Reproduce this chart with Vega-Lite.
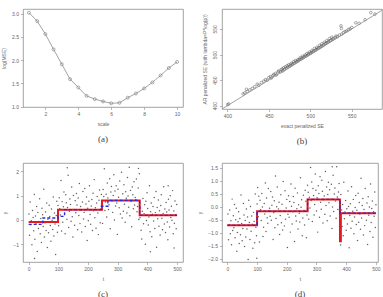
{
  "$schema": "https://vega.github.io/schema/vega-lite/v6.json",
  "background": "white",
  "padding": {"left": 1, "top": 8, "right": 0, "bottom": 0},
  "columns": 2,
  "bounds": "flush",
  "spacing": {"row": 54, "column": 39},
  "config": {
    "view": {"stroke": "#8a8a8a", "strokeWidth": 0.8},
    "axis": {"grid": false, "domain": false, "tickColor": "#8a8a8a", "tickSize": 2.5, "tickWidth": 0.6,
      "labelFont": "Liberation Sans", "labelFontSize": 5, "labelColor": "#666666", "labelPadding": 2, "labelOverlap": false,
      "titleFont": "Liberation Sans", "titleFontSize": 5, "titleFontWeight": "normal", "titleColor": "#666666", "titlePadding": 5},
    "title": {"orient": "bottom", "font": "Liberation Serif", "fontSize": 9, "fontWeight": "normal", "color": "#444444", "offset": 8}
  },
  "datasets": {
    "mse": [
      {"s": 1, "v": 3.02}, {"s": 1.5, "v": 2.84}, {"s": 2, "v": 2.56}, {"s": 2.5, "v": 2.23}, {"s": 3, "v": 1.91},
      {"s": 3.5, "v": 1.59}, {"s": 4, "v": 1.41}, {"s": 4.5, "v": 1.23}, {"s": 5, "v": 1.16}, {"s": 5.5, "v": 1.11},
      {"s": 6, "v": 1.07}, {"s": 6.5, "v": 1.08}, {"s": 7, "v": 1.19}, {"s": 7.5, "v": 1.28}, {"s": 8, "v": 1.39},
      {"s": 8.5, "v": 1.52}, {"s": 9, "v": 1.67}, {"s": 9.5, "v": 1.83}, {"s": 10, "v": 1.96}
    ],
    "se": [
      {"x": 400.5, "y": 402}, {"x": 401.5, "y": 403.5}, {"x": 419, "y": 423}, {"x": 421, "y": 425}, {"x": 423, "y": 432},
      {"x": 424, "y": 428}, {"x": 427, "y": 431}, {"x": 430, "y": 434}, {"x": 433, "y": 437}, {"x": 436, "y": 442},
      {"x": 438, "y": 440}, {"x": 441, "y": 445}, {"x": 444, "y": 448}, {"x": 446, "y": 451}, {"x": 448, "y": 450},
      {"x": 450, "y": 455}, {"x": 452, "y": 457}, {"x": 453, "y": 454}, {"x": 455, "y": 459}, {"x": 456, "y": 461},
      {"x": 458, "y": 463}, {"x": 459, "y": 460}, {"x": 461, "y": 466}, {"x": 462, "y": 468}, {"x": 464, "y": 466},
      {"x": 465, "y": 470}, {"x": 466, "y": 472}, {"x": 467, "y": 468}, {"x": 468, "y": 474}, {"x": 469, "y": 471},
      {"x": 470, "y": 476}, {"x": 471, "y": 473}, {"x": 472, "y": 478}, {"x": 473, "y": 475}, {"x": 474, "y": 480},
      {"x": 475, "y": 477}, {"x": 476, "y": 479}, {"x": 477, "y": 483}, {"x": 478, "y": 480}, {"x": 479, "y": 482},
      {"x": 480, "y": 486}, {"x": 481, "y": 483}, {"x": 482, "y": 488}, {"x": 483, "y": 485}, {"x": 484, "y": 487},
      {"x": 485, "y": 490}, {"x": 486, "y": 488}, {"x": 487, "y": 491}, {"x": 488, "y": 494}, {"x": 489, "y": 491},
      {"x": 490, "y": 493}, {"x": 491, "y": 497}, {"x": 492, "y": 494}, {"x": 493, "y": 496}, {"x": 494, "y": 499},
      {"x": 495, "y": 497}, {"x": 496, "y": 502}, {"x": 497, "y": 499}, {"x": 498, "y": 501}, {"x": 499, "y": 505},
      {"x": 500, "y": 502}, {"x": 501, "y": 504}, {"x": 502, "y": 508}, {"x": 503, "y": 505}, {"x": 504, "y": 507},
      {"x": 505, "y": 512}, {"x": 506, "y": 508}, {"x": 507, "y": 510}, {"x": 508, "y": 514}, {"x": 509, "y": 511},
      {"x": 510, "y": 513}, {"x": 511, "y": 518}, {"x": 512, "y": 514}, {"x": 513, "y": 516}, {"x": 514, "y": 521},
      {"x": 515, "y": 517}, {"x": 516, "y": 519}, {"x": 517, "y": 524}, {"x": 518, "y": 521}, {"x": 519, "y": 522},
      {"x": 520, "y": 527}, {"x": 521, "y": 524}, {"x": 522, "y": 525}, {"x": 523, "y": 531}, {"x": 524, "y": 527},
      {"x": 525, "y": 528}, {"x": 526, "y": 534}, {"x": 527, "y": 530}, {"x": 528, "y": 531}, {"x": 530, "y": 533},
      {"x": 531, "y": 536}, {"x": 533, "y": 535}, {"x": 535, "y": 538}, {"x": 537, "y": 556}, {"x": 537.5, "y": 551},
      {"x": 538, "y": 540}, {"x": 540, "y": 543}, {"x": 542, "y": 545}, {"x": 544, "y": 546}, {"x": 546, "y": 549},
      {"x": 548, "y": 550}, {"x": 550, "y": 553}, {"x": 555, "y": 562}, {"x": 559, "y": 561}, {"x": 566, "y": 568},
      {"x": 573, "y": 582}, {"x": 578, "y": 579}
    ],
    "diag": [{"x": 380, "y": 380}, {"x": 600, "y": 600}],
    "sig1": [
      {"i": 1, "y": 0.24}, {"i": 3, "y": -0.63}, {"i": 5, "y": 0.73}, {"i": 7, "y": -0.2}, {"i": 9, "y": -0.03}, {"i": 11, "y": -1.01}, {"i": 13, "y": 0.39}, {"i": 15, "y": 0.1}, {"i": 17, "y": -0.44}, {"i": 19, "y": 1.04},
      {"i": 21, "y": -0.79}, {"i": 23, "y": 0.16}, {"i": 25, "y": -0.16}, {"i": 27, "y": 0.55}, {"i": 29, "y": -1.29}, {"i": 31, "y": 0.31}, {"i": 33, "y": -0.35}, {"i": 35, "y": -0.06}, {"i": 37, "y": 0.87}, {"i": 39, "y": -0.56},
      {"i": 41, "y": 0.06}, {"i": 43, "y": -0.92}, {"i": 45, "y": 0.48}, {"i": 47, "y": 0.21}, {"i": 49, "y": -0.27}, {"i": 51, "y": 1.26}, {"i": 53, "y": -0.7}, {"i": 55, "y": -0.11}, {"i": 57, "y": 0.33}, {"i": 59, "y": -0.43},
      {"i": 61, "y": 0.69}, {"i": 63, "y": -1.13}, {"i": 65, "y": 0.03}, {"i": 67, "y": -0.52}, {"i": 69, "y": 0.6}, {"i": 71, "y": 0.14}, {"i": 73, "y": -0.23}, {"i": 75, "y": -0.87}, {"i": 77, "y": 0.45}, {"i": 79, "y": -0.01},
      {"i": 81, "y": -0.39}, {"i": 83, "y": 0.94}, {"i": 85, "y": -0.66}, {"i": 87, "y": 0.28}, {"i": 89, "y": -0.17}, {"i": 91, "y": -1.41}, {"i": 93, "y": 0.18}, {"i": 95, "y": 0.77}, {"i": 97, "y": -0.5}, {"i": 99, "y": 0.59},
      {"i": 101, "y": -0.24}, {"i": 103, "y": 0.91}, {"i": 105, "y": 0.46}, {"i": 107, "y": 0.2}, {"i": 109, "y": 1.61}, {"i": 111, "y": -0.45}, {"i": 113, "y": 0.75}, {"i": 115, "y": -0.09}, {"i": 117, "y": 0.54}, {"i": 119, "y": 1.14},
      {"i": 121, "y": 0.25}, {"i": 123, "y": -0.56}, {"i": 125, "y": 1.03}, {"i": 127, "y": 0.7}, {"i": 129, "y": 0.03}, {"i": 131, "y": 0.51}, {"i": 133, "y": 1.83}, {"i": 135, "y": -0.31}, {"i": 137, "y": 0.36}, {"i": 139, "y": 0.86},
      {"i": 141, "y": 0.63}, {"i": 143, "y": -0.05}, {"i": 145, "y": 1.35}, {"i": 147, "y": 0.13}, {"i": 149, "y": -0.7}, {"i": 151, "y": 1.0}, {"i": 153, "y": 0.43}, {"i": 155, "y": -0.22}, {"i": 157, "y": 0.79}, {"i": 159, "y": 0.29},
      {"i": 161, "y": 1.08}, {"i": 163, "y": 0.61}, {"i": 165, "y": -0.4}, {"i": 167, "y": 0.9}, {"i": 169, "y": 0.18}, {"i": 171, "y": 1.49}, {"i": 173, "y": -0.15}, {"i": 175, "y": 0.55}, {"i": 177, "y": 0.41}, {"i": 179, "y": -0.49},
      {"i": 181, "y": 0.73}, {"i": 183, "y": 1.16}, {"i": 185, "y": 0.04}, {"i": 187, "y": 0.31}, {"i": 189, "y": 1.29}, {"i": 191, "y": -0.27}, {"i": 193, "y": 0.65}, {"i": 195, "y": 0.94}, {"i": 197, "y": -0.84}, {"i": 199, "y": 0.48},
      {"i": 201, "y": -0.03}, {"i": 203, "y": 0.77}, {"i": 205, "y": 1.4}, {"i": 207, "y": 0.22}, {"i": 209, "y": -0.18}, {"i": 211, "y": 0.57}, {"i": 213, "y": 0.84}, {"i": 215, "y": -0.43}, {"i": 217, "y": 1.09}, {"i": 219, "y": 0.38},
      {"i": 221, "y": 1.65}, {"i": 223, "y": 0.09}, {"i": 225, "y": 0.5}, {"i": 227, "y": -0.34}, {"i": 229, "y": 0.69}, {"i": 231, "y": 0.96}, {"i": 233, "y": 0.28}, {"i": 235, "y": -0.6}, {"i": 237, "y": 0.81}, {"i": 239, "y": 1.23},
      {"i": 241, "y": -0.11}, {"i": 243, "y": 0.45}, {"i": 245, "y": 1.04}, {"i": 247, "y": 0.54}, {"i": 249, "y": -0.14}, {"i": 251, "y": 1.25}, {"i": 253, "y": 0.96}, {"i": 255, "y": 2.09}, {"i": 257, "y": 0.39}, {"i": 259, "y": 0.73},
      {"i": 261, "y": 1.05}, {"i": 263, "y": 0.12}, {"i": 265, "y": 1.51}, {"i": 267, "y": 0.9}, {"i": 269, "y": 0.43}, {"i": 271, "y": 0.62}, {"i": 273, "y": 1.69}, {"i": 275, "y": -0.36}, {"i": 277, "y": 1.14}, {"i": 279, "y": 1.37},
      {"i": 281, "y": 0.78}, {"i": 283, "y": 0.31}, {"i": 285, "y": 1.0}, {"i": 287, "y": 1.85}, {"i": 289, "y": 0.0}, {"i": 291, "y": 1.18}, {"i": 293, "y": 0.57}, {"i": 295, "y": 1.4}, {"i": 297, "y": 0.69}, {"i": 299, "y": -0.59},
      {"i": 301, "y": 1.26}, {"i": 303, "y": 0.93}, {"i": 305, "y": 0.5}, {"i": 307, "y": 1.59}, {"i": 309, "y": 0.24}, {"i": 311, "y": 0.8}, {"i": 313, "y": 1.95}, {"i": 315, "y": 0.08}, {"i": 317, "y": 1.07}, {"i": 319, "y": 0.36},
      {"i": 321, "y": 1.44}, {"i": 323, "y": 0.64}, {"i": 325, "y": -0.09}, {"i": 327, "y": 1.15}, {"i": 329, "y": 0.89}, {"i": 331, "y": 0.28}, {"i": 333, "y": 1.74}, {"i": 335, "y": 0.98}, {"i": 337, "y": 0.52}, {"i": 339, "y": 2.16},
      {"i": 341, "y": 0.17}, {"i": 343, "y": 1.21}, {"i": 345, "y": 0.75}, {"i": 347, "y": -0.28}, {"i": 349, "y": 1.35}, {"i": 351, "y": 1.03}, {"i": 353, "y": 0.46}, {"i": 355, "y": 1.56}, {"i": 357, "y": 0.61}, {"i": 359, "y": 0.92},
      {"i": 361, "y": 0.83}, {"i": 363, "y": 1.68}, {"i": 365, "y": 0.34}, {"i": 367, "y": 0.55}, {"i": 369, "y": 1.31}, {"i": 371, "y": 0.02}, {"i": 373, "y": 1.89}, {"i": 375, "y": 0.09}, {"i": 377, "y": 0.49}, {"i": 379, "y": -0.42},
      {"i": 381, "y": -0.78}, {"i": 383, "y": 0.36}, {"i": 385, "y": 0.88}, {"i": 387, "y": -0.16}, {"i": 389, "y": 0.25}, {"i": 391, "y": 0.62}, {"i": 393, "y": -0.99}, {"i": 395, "y": 0.77}, {"i": 397, "y": -0.02}, {"i": 399, "y": 1.11},
      {"i": 401, "y": 0.47}, {"i": 403, "y": -0.21}, {"i": 405, "y": 0.12}, {"i": 407, "y": 1.4}, {"i": 409, "y": -0.48}, {"i": 411, "y": 0.34}, {"i": 413, "y": 0.69}, {"i": 415, "y": -0.69}, {"i": 417, "y": 0.23}, {"i": 419, "y": 0.55},
      {"i": 421, "y": -0.04}, {"i": 423, "y": 0.92}, {"i": 425, "y": -0.35}, {"i": 427, "y": 0.3}, {"i": 429, "y": 1.16}, {"i": 431, "y": -1.12}, {"i": 433, "y": 0.51}, {"i": 435, "y": 0.05}, {"i": 437, "y": 0.82}, {"i": 439, "y": -0.26},
      {"i": 441, "y": 0.38}, {"i": 443, "y": -0.62}, {"i": 445, "y": 0.59}, {"i": 447, "y": 1.03}, {"i": 449, "y": 0.07}, {"i": 451, "y": -0.4}, {"i": 453, "y": 0.26}, {"i": 455, "y": 1.36}, {"i": 457, "y": -0.17}, {"i": 459, "y": 0.45},
      {"i": 461, "y": -0.51}, {"i": 463, "y": 0.71}, {"i": 465, "y": 0.33}, {"i": 467, "y": -0.08}, {"i": 469, "y": -0.81}, {"i": 471, "y": 0.85}, {"i": 473, "y": 0.41}, {"i": 475, "y": -0.29}, {"i": 477, "y": 0.99}, {"i": 479, "y": 0.1},
      {"i": 481, "y": 0.56}, {"i": 483, "y": -0.01}, {"i": 485, "y": 1.2}, {"i": 487, "y": -0.56}, {"i": 489, "y": 0.37}, {"i": 491, "y": -0.13}, {"i": 493, "y": 0.78}, {"i": 495, "y": 0.21}, {"i": 497, "y": -0.36}, {"i": 499, "y": 0.63},
      {"i": 20, "y": -1.58}, {"i": 130, "y": 2.14}, {"i": 370, "y": 2.11}, {"i": 470, "y": 1.4}, {"i": 490, "y": -1.15}, {"i": 410, "y": -1.3}
    ],
    "fit1": [
      {"m": "red", "i": 0, "y": -0.08}, {"m": "red", "i": 99, "y": 0.42}, {"m": "red", "i": 247, "y": 0.8}, {"m": "red", "i": 374, "y": 0.19}, {"m": "red", "i": 500, "y": 0.19},
      {"m": "blue", "i": 0, "y": -0.18}, {"m": "blue", "i": 48, "y": 0.08}, {"m": "blue", "i": 99, "y": 0.15}, {"m": "blue", "i": 121, "y": 0.42}, {"m": "blue", "i": 245, "y": 0.56}, {"m": "blue", "i": 267, "y": 0.8}, {"m": "blue", "i": 374, "y": 0.19}, {"m": "blue", "i": 500, "y": 0.19}
    ],
    "sig2": [
      {"i": 2, "y": -0.27}, {"i": 4, "y": -1.26}, {"i": 6, "y": -0.69}, {"i": 8, "y": -0.12}, {"i": 10, "y": -1.03}, {"i": 12, "y": -0.53}, {"i": 14, "y": -1.46}, {"i": 16, "y": 0.3}, {"i": 18, "y": -0.91}, {"i": 20, "y": -0.34},
      {"i": 22, "y": -0.8}, {"i": 24, "y": 0.09}, {"i": 26, "y": -1.19}, {"i": 28, "y": -0.49}, {"i": 30, "y": -0.05}, {"i": 32, "y": -1.71}, {"i": 34, "y": -0.98}, {"i": 36, "y": -0.57}, {"i": 38, "y": -0.19}, {"i": 40, "y": -1.41},
      {"i": 42, "y": -0.45}, {"i": 44, "y": -1.07}, {"i": 46, "y": 0.46}, {"i": 48, "y": -0.64}, {"i": 50, "y": -1.3}, {"i": 52, "y": -0.83}, {"i": 54, "y": 0.13}, {"i": 56, "y": -0.31}, {"i": 58, "y": -1.52}, {"i": 60, "y": -0.52},
      {"i": 62, "y": -1.16}, {"i": 64, "y": -0.08}, {"i": 66, "y": -0.85}, {"i": 68, "y": -0.39}, {"i": 70, "y": -2.02}, {"i": 72, "y": 0.26}, {"i": 74, "y": -0.6}, {"i": 76, "y": -1.25}, {"i": 78, "y": 0.02}, {"i": 80, "y": -0.94},
      {"i": 82, "y": -0.35}, {"i": 84, "y": -0.67}, {"i": 86, "y": -1.59}, {"i": 88, "y": -0.21}, {"i": 90, "y": -0.56}, {"i": 92, "y": -1.38}, {"i": 94, "y": 0.5}, {"i": 96, "y": -0.78}, {"i": 98, "y": -1.11}, {"i": 100, "y": 0.11},
      {"i": 102, "y": 0.75}, {"i": 104, "y": -0.38}, {"i": 106, "y": 0.41}, {"i": 108, "y": -1.35}, {"i": 110, "y": 0.26}, {"i": 112, "y": -0.11}, {"i": 114, "y": -0.52}, {"i": 116, "y": 0.52}, {"i": 118, "y": 0.0}, {"i": 120, "y": -1.14},
      {"i": 122, "y": -0.78}, {"i": 124, "y": 0.13}, {"i": 126, "y": -0.27}, {"i": 128, "y": 0.92}, {"i": 130, "y": -0.95}, {"i": 132, "y": 0.34}, {"i": 134, "y": -0.42}, {"i": 136, "y": -0.63}, {"i": 138, "y": 0.71}, {"i": 140, "y": -0.14},
      {"i": 142, "y": -0.05}, {"i": 144, "y": -0.36}, {"i": 146, "y": 0.59}, {"i": 148, "y": -0.51}, {"i": 150, "y": 0.06}, {"i": 152, "y": 0.38}, {"i": 154, "y": -1.25}, {"i": 156, "y": -0.22}, {"i": 158, "y": 0.24}, {"i": 160, "y": -0.8},
      {"i": 162, "y": 1.19}, {"i": 164, "y": -0.45}, {"i": 166, "y": 0.01}, {"i": 168, "y": 0.77}, {"i": 170, "y": -0.69}, {"i": 172, "y": -0.08}, {"i": 174, "y": 0.18}, {"i": 176, "y": -1.06}, {"i": 178, "y": -0.33}, {"i": 180, "y": 0.47},
      {"i": 182, "y": -0.61}, {"i": 184, "y": 0.1}, {"i": 186, "y": -0.89}, {"i": 188, "y": 0.98}, {"i": 190, "y": -0.17}, {"i": 192, "y": -0.73}, {"i": 194, "y": 0.62}, {"i": 196, "y": -0.47}, {"i": 198, "y": -0.04}, {"i": 200, "y": 0.29},
      {"i": 202, "y": -1.56}, {"i": 204, "y": -0.28}, {"i": 206, "y": 0.43}, {"i": 208, "y": -0.4}, {"i": 210, "y": 0.21}, {"i": 212, "y": -0.97}, {"i": 214, "y": 0.88}, {"i": 216, "y": 0.03}, {"i": 218, "y": -0.66}, {"i": 220, "y": -0.19},
      {"i": 222, "y": 0.4}, {"i": 224, "y": 0.17}, {"i": 226, "y": -1.33}, {"i": 228, "y": 0.72}, {"i": 230, "y": -0.35}, {"i": 232, "y": -0.54}, {"i": 234, "y": -0.07}, {"i": 236, "y": 0.54}, {"i": 238, "y": -0.85}, {"i": 240, "y": 0.08},
      {"i": 242, "y": -0.24}, {"i": 244, "y": -0.58}, {"i": 246, "y": 1.12}, {"i": 248, "y": -0.01}, {"i": 250, "y": 0.28}, {"i": 252, "y": -1.11}, {"i": 254, "y": -0.43}, {"i": 256, "y": 0.45}, {"i": 258, "y": -0.14}, {"i": 260, "y": -0.7},
      {"i": 262, "y": 0.64}, {"i": 264, "y": 0.22}, {"i": 266, "y": -1.19}, {"i": 268, "y": -0.31}, {"i": 270, "y": 0.83}, {"i": 272, "y": 0.56}, {"i": 274, "y": -0.47}, {"i": 276, "y": 0.37}, {"i": 278, "y": -0.04}, {"i": 280, "y": 1.52},
      {"i": 282, "y": 0.25}, {"i": 284, "y": 0.96}, {"i": 286, "y": -0.56}, {"i": 288, "y": 0.71}, {"i": 290, "y": 0.44}, {"i": 292, "y": -0.31}, {"i": 294, "y": 0.09}, {"i": 296, "y": 1.27}, {"i": 298, "y": 0.64}, {"i": 300, "y": -0.16},
      {"i": 302, "y": 0.35}, {"i": 304, "y": -0.97}, {"i": 306, "y": 0.81}, {"i": 308, "y": 0.52}, {"i": 310, "y": -0.4}, {"i": 312, "y": 1.16}, {"i": 314, "y": 0.18}, {"i": 316, "y": -0.09}, {"i": 318, "y": 1.03}, {"i": 320, "y": 0.6},
      {"i": 322, "y": -0.62}, {"i": 324, "y": 0.28}, {"i": 326, "y": 0.42}, {"i": 328, "y": -0.28}, {"i": 330, "y": 1.36}, {"i": 332, "y": 0.05}, {"i": 334, "y": 0.77}, {"i": 336, "y": -0.53}, {"i": 338, "y": 0.48}, {"i": 340, "y": 0.95},
      {"i": 342, "y": 0.16}, {"i": 344, "y": 0.66}, {"i": 346, "y": -0.35}, {"i": 348, "y": 0.3}, {"i": 350, "y": 0.87}, {"i": 352, "y": -0.83}, {"i": 354, "y": 0.0}, {"i": 356, "y": 1.22}, {"i": 358, "y": -0.18}, {"i": 360, "y": 0.5},
      {"i": 362, "y": 0.73}, {"i": 364, "y": 0.23}, {"i": 366, "y": -0.44}, {"i": 368, "y": 1.55}, {"i": 370, "y": 0.38}, {"i": 372, "y": -0.1}, {"i": 374, "y": 0.57}, {"i": 376, "y": 0.9}, {"i": 378, "y": -0.69}, {"i": 380, "y": -0.41},
      {"i": 382, "y": 0.48}, {"i": 384, "y": -0.12}, {"i": 386, "y": -0.75}, {"i": 388, "y": 0.09}, {"i": 390, "y": -1.11}, {"i": 392, "y": 0.95}, {"i": 394, "y": -0.46}, {"i": 396, "y": -0.2}, {"i": 398, "y": 0.25}, {"i": 400, "y": -0.9},
      {"i": 402, "y": -0.07}, {"i": 404, "y": -0.66}, {"i": 406, "y": 0.61}, {"i": 408, "y": 0.02}, {"i": 410, "y": -1.57}, {"i": 412, "y": -0.33}, {"i": 414, "y": 0.12}, {"i": 416, "y": -0.82}, {"i": 418, "y": 0.78}, {"i": 420, "y": -0.55},
      {"i": 422, "y": -0.17}, {"i": 424, "y": 0.29}, {"i": 426, "y": -1.03}, {"i": 428, "y": -0.39}, {"i": 430, "y": -0.02}, {"i": 432, "y": 0.44}, {"i": 434, "y": -0.68}, {"i": 436, "y": -0.13}, {"i": 438, "y": -1.29}, {"i": 440, "y": 0.53},
      {"i": 442, "y": -0.59}, {"i": 444, "y": 0.17}, {"i": 446, "y": -0.27}, {"i": 448, "y": -0.86}, {"i": 450, "y": 1.1}, {"i": 452, "y": -0.43}, {"i": 454, "y": 0.05}, {"i": 456, "y": 0.32}, {"i": 458, "y": -1.08}, {"i": 460, "y": -0.1},
      {"i": 462, "y": -0.72}, {"i": 464, "y": 0.71}, {"i": 466, "y": -0.22}, {"i": 468, "y": -0.51}, {"i": 470, "y": 0.15}, {"i": 472, "y": -1.45}, {"i": 474, "y": 0.39}, {"i": 476, "y": -0.32}, {"i": 478, "y": 0.0}, {"i": 480, "y": -0.95},
      {"i": 482, "y": 0.88}, {"i": 484, "y": -0.6}, {"i": 486, "y": -0.06}, {"i": 488, "y": 0.23}, {"i": 490, "y": -1.17}, {"i": 492, "y": -0.19}, {"i": 494, "y": -0.36}, {"i": 496, "y": 0.57}, {"i": 498, "y": -0.79}, {"i": 500, "y": 0.08},
      {"i": 381, "y": -1.47}, {"i": 99, "y": -1.98}, {"i": 353, "y": 1.55}
    ],
    "fit2": [
      {"m": "red", "i": 0, "y": -0.71}, {"m": "red", "i": 100, "y": -0.17}, {"m": "red", "i": 270, "y": 0.29}, {"m": "red", "i": 379, "y": -1.32}, {"m": "red", "i": 382, "y": -0.24}, {"m": "red", "i": 500, "y": -0.24},
      {"m": "blue", "i": 0, "y": -0.71}, {"m": "blue", "i": 100, "y": -0.17}, {"m": "blue", "i": 270, "y": 0.29}, {"m": "blue", "i": 379, "y": -0.24}, {"m": "blue", "i": 500, "y": -0.24}
    ]
  },
  "concat": [
    {
      "width": 160, "height": 98,
      "title": {"text": "(a)", "font": "Liberation Serif", "fontWeight": "normal"},
      "data": {"name": "mse"},
      "encoding": {
        "x": {"field": "s", "type": "quantitative", "title": "scale",
          "scale": {"domain": [0.64, 10.36], "nice": false, "zero": false}, "axis": {"values": [2, 4, 6, 8, 10]}},
        "y": {"field": "v", "type": "quantitative", "title": "log(MSE)",
          "scale": {"domain": [0.99, 3.1], "nice": false, "zero": false}, "axis": {"values": [1, 1.5, 2, 2.5, 3], "format": ".1f"}}
      },
      "layer": [
        {"mark": {"type": "line", "color": "#8c8c8c", "strokeWidth": 0.8}},
        {"mark": {"type": "point", "shape": "circle", "filled": false, "size": 9, "color": "#7a7a7a", "strokeWidth": 0.6, "opacity": 1}}
      ]
    },
    {
      "width": 160, "height": 100,
      "title": {"text": "(b)", "font": "Liberation Serif", "fontWeight": "normal"},
      "encoding": {
        "x": {"field": "x", "type": "quantitative", "title": "exact penalized SE",
          "scale": {"domain": [393.5, 586.5], "nice": false, "zero": false}, "axis": {"values": [400, 450, 500, 550]}},
        "y": {"field": "y", "type": "quantitative", "title": "AR penalized SE (with lambda=P*log(p))",
          "scale": {"domain": [393.5, 589], "nice": false, "zero": false},
          "axis": {"values": [400, 450, 500, 550], "labelAngle": -90, "labelAlign": "center", "labelBaseline": "bottom", "labelPadding": 2}}
      },
      "layer": [
        {
          "data": {"name": "se"},
          "mark": {"type": "point", "shape": "circle", "filled": false, "size": 7, "color": "#555555", "strokeWidth": 0.5, "opacity": 1}
        },
        {
          "data": {"name": "diag"},
          "mark": {"type": "line", "color": "#8c8c8c", "strokeWidth": 0.8, "clip": true}
        }
      ]
    },
    {
      "width": 160, "height": 99,
      "title": {"text": "(c)", "font": "Liberation Serif", "fontWeight": "normal"},
      "encoding": {
        "x": {"field": "i", "type": "quantitative", "title": "t",
          "scale": {"domain": [-19, 520], "nice": false, "zero": false}, "axis": {"values": [0, 100, 200, 300, 400, 500]}},
        "y": {"field": "y", "type": "quantitative", "title": "y",
          "scale": {"domain": [-1.72, 2.33], "nice": false, "zero": false}, "axis": {"values": [-1, 0, 1, 2]}}
      },
      "layer": [
        {"data": {"name": "sig1"}, "mark": {"type": "circle", "size": 2.2, "color": "#444444", "opacity": 0.85}},
        {"data": {"name": "fit1"}, "transform": [{"filter": "datum.m === 'red'"}],
          "mark": {"type": "line", "interpolate": "step-after", "color": "#e3191f", "strokeWidth": 2, "clip": true}},
        {"data": {"name": "fit1"}, "transform": [{"filter": "datum.m === 'blue'"}],
          "mark": {"type": "line", "interpolate": "step-after", "color": "#2a2ad8", "strokeWidth": 1.3, "strokeDash": [3, 2], "clip": true}}
      ]
    },
    {
      "width": 156, "height": 99,
      "title": {"text": "(d)", "font": "Liberation Serif", "fontWeight": "normal"},
      "encoding": {
        "x": {"field": "i", "type": "quantitative", "title": "t",
          "scale": {"domain": [-18, 507], "nice": false, "zero": false}, "axis": {"values": [0, 100, 200, 300, 400, 500]}},
        "y": {"field": "y", "type": "quantitative", "title": "y",
          "scale": {"domain": [-2.12, 1.69], "nice": false, "zero": false}, "axis": {"values": [-2, -1.5, -1, -0.5, 0, 0.5, 1, 1.5], "format": ".1f"}}
      },
      "layer": [
        {"data": {"name": "sig2"}, "mark": {"type": "circle", "size": 2.2, "color": "#444444", "opacity": 0.85}},
        {"data": {"name": "fit2"}, "transform": [{"filter": "datum.m === 'red'"}],
          "mark": {"type": "line", "interpolate": "step-after", "color": "#e3191f", "strokeWidth": 2, "clip": true}},
        {"data": {"name": "fit2"}, "transform": [{"filter": "datum.m === 'blue'"}],
          "mark": {"type": "line", "interpolate": "step-after", "color": "#2a2ad8", "strokeWidth": 1.3, "strokeDash": [3, 2], "clip": true}}
      ]
    }
  ]
}
